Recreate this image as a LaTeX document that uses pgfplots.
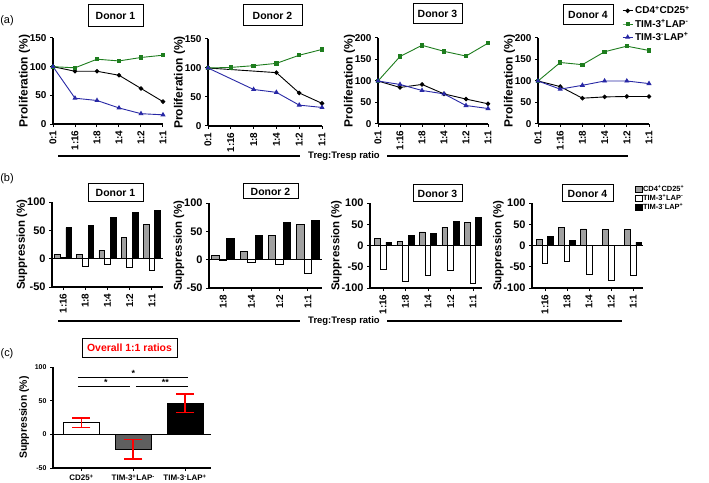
\documentclass[border=0pt]{standalone}
\usepackage{pgfplots}
\pgfplotsset{compat=1.18}
\usepackage{fontspec}
\setmainfont{Liberation Sans}
\definecolor{dgreen}{RGB}{30,125,30}
\definecolor{dblue}{RGB}{40,40,165}
\definecolor{bgray}{RGB}{160,160,160}
\definecolor{cgray}{RGB}{95,95,95}
\newcommand{\fs}[1]{\fontsize{#1}{#1}\selectfont\bfseries}
\newcommand{\p}{\textsuperscript{+}}
\newcommand{\m}{\textsuperscript{-}}
\pgfplotsset{
  base/.style={scale only axis, anchor=north west,
    axis x line*=bottom, axis y line*=left,
    axis line style={-, line width=1.2bp},
    tick align=outside, major tick length=3bp,
    every tick/.style={black, line width=1bp},
    /pgf/number format/assume math mode=true, clip=false},
  prolif/.style={base, xmin=0, xmax=5, ymin=0,
    xtick={0,...,5}, xticklabels={0:1,1:16,1:8,1:4,1:2,1:1},
    x tick label style={rotate=90, anchor=east, font=\fs{10}},
    y tick label style={font=\fs{10}},
    ylabel={Proliferation (\%)}, ylabel style={font=\fs{12}}, ylabel shift=-7bp},
  supp/.style={base, ybar=0pt,
    x tick label style={rotate=90, anchor=east, font=\fs{10}},
    y tick label style={font=\fs{11}},
    ylabel={Suppression (\%)}, ylabel style={font=\fs{11.5}}, ylabel shift=-13bp,
    extra y ticks={0}, extra y tick labels={},
    extra y tick style={grid=major, major grid style={black, line width=1.2bp}}},
  bk/.style={black, line width=0.9bp, mark=*, mark size=1.8bp, mark options={solid, fill=black}},
  gr/.style={dgreen, line width=0.9bp, mark=square*, mark size=1.7bp, mark options={solid, fill=dgreen}},
  bl/.style={dblue, line width=0.9bp, mark=triangle*, mark size=2.1bp, mark options={solid, fill=dblue}},
  lnleg/.style={legend image code/.code={\draw[mark repeat=2, mark phase=2, ##1] plot coordinates {(0bp,0bp) (5bp,0bp) (10bp,0bp)};}},
  sqleg/.style={legend image code/.code={\draw[##1] (0bp,-3bp) rectangle (6.5bp,3bp);}},
  gbar/.style={fill=bgray, draw=black, line width=0.8bp},
  wbar/.style={fill=white, draw=black, line width=0.8bp},
  kbar/.style={fill=black, draw=black, line width=0.8bp},
  cerr/.style={error bars/.cd, y dir=both, y explicit,
    error bar style={draw=red, color=red, line width=1.6bp},
    error mark options={rotate=90, draw=red, color=red, mark size=9bp, line width=1.6bp}},
}
\begin{document}
\begin{tikzpicture}[x=1bp, y=-1bp]
\useasboundingbox (0,0) rectangle (709,483);

% ---------------- (a) ----------------
\begin{axis}[prolif, at={(53bp,-38bp)}, width=110bp, height=86bp, ymax=150, ytick={0,50,100,150}]
\addplot[bk] coordinates {(0,100) (1,92) (2,92) (3,85) (4,62) (5,39)};
\addplot[gr] coordinates {(0,100) (1,98) (2,113) (3,110) (4,116) (5,120)};
\addplot[bl] coordinates {(0,100) (1,45) (2,41) (3,28) (4,18) (5,16)};
\end{axis}
\begin{axis}[prolif, at={(208bp,-39bp)}, width=114bp, height=87bp, ymax=150, ytick={0,50,100,150}]
\addplot[bk] coordinates {(0,100) (3,92) (4,57) (5,39)};
\addplot[gr] coordinates {(0,100) (1,101) (2,104) (3,108) (4,122) (5,132)};
\addplot[bl] coordinates {(0,100) (2,63) (3,58) (4,36) (5,32)};
\end{axis}
\begin{axis}[prolif, at={(378bp,-38bp)}, width=110bp, height=86bp, ymax=200, ytick={0,50,100,150,200}]
\addplot[bk] coordinates {(0,100) (1,85) (2,92) (3,70) (4,58) (5,47)};
\addplot[gr] coordinates {(0,100) (1,157) (2,183) (3,169) (4,158) (5,188)};
\addplot[bl] coordinates {(0,100) (1,92) (2,78) (3,70) (4,43) (5,36)};
\end{axis}
\begin{axis}[prolif, at={(538bp,-38bp)}, width=111bp, height=86bp, ymax=200, ytick={0,50,100,150,200},
  legend style={at={(0.757,1.395)}, anchor=north west, draw=none, fill=none, font=\fs{10}, inner sep=0pt,
    row sep=0bp, /tikz/every even column/.append style={column sep=2bp}}, legend cell align=left]
\addplot[bk, lnleg] coordinates {(0,100) (1,87) (2,60) (3,63) (4,64) (5,64)};
\addlegendentry{CD4\p CD25\p}
\addplot[gr, lnleg] coordinates {(0,100) (1,143) (2,138) (3,168) (4,181) (5,171)};
\addlegendentry{TIM-3\p LAP\m}
\addplot[bl, lnleg] coordinates {(0,100) (1,81) (2,90) (3,100) (4,100) (5,94)};
\addlegendentry{TIM-3\m LAP\p}
\end{axis}

% ---------------- (b) ----------------
\begin{axis}[supp, at={(52bp,-202bp)}, width=111bp, height=85bp, xmin=-0.5, xmax=4.5,
  ymin=-50, ymax=100, ytick={-50,0,50,100}, bar width=5.7bp,
  xtick={0,...,4}, xticklabels={1:16,1:8,1:4,1:2,1:1}]
\addplot[gbar] coordinates {(0,7) (1,7) (2,15) (3,38) (4,61)};
\addplot[wbar] coordinates {(0,2) (1,-13) (2,-10) (3,-16) (4,-20)};
\addplot[kbar] coordinates {(0,55) (1,59) (2,72) (3,82) (4,85)};
\end{axis}
\begin{axis}[supp, at={(209bp,-203bp)}, width=113bp, height=85bp, xmin=-0.5, xmax=3.5,
  ymin=-50, ymax=100, ytick={-50,0,50,100}, bar width=7.5bp,
  xtick={0,...,3}, xticklabels={1:8,1:4,1:2,1:1}]
\addplot[gbar] coordinates {(0,8) (1,15) (2,43) (3,62)};
\addplot[wbar] coordinates {(0,-2) (1,-4) (2,-9) (3,-24)};
\addplot[kbar] coordinates {(0,38) (1,42) (2,65) (3,69)};
\end{axis}
\begin{axis}[supp, at={(370bp,-203bp)}, width=112bp, height=85bp, xmin=-0.58, xmax=4.4,
  ymin=-100, ymax=100, ytick={-100,-50,0,50,100}, bar width=5.7bp,
  xtick={0,...,4}, xticklabels={1:16,1:8,1:4,1:2,1:1}]
\addplot[gbar] coordinates {(0,16) (1,9) (2,32) (3,43) (4,55)};
\addplot[wbar] coordinates {(0,-57) (1,-84) (2,-70) (3,-59) (4,-90)};
\addplot[kbar] coordinates {(0,8) (1,23) (2,29) (3,57) (4,66)};
\end{axis}
\begin{axis}[supp, at={(532bp,-203bp)}, width=111bp, height=85bp, xmin=-0.59, xmax=4.45,
  ymin=-100, ymax=100, ytick={-100,-50,0,50,100}, bar width=5.7bp,
  xtick={0,...,4}, xticklabels={1:16,1:8,1:4,1:2,1:1},
  legend style={at={(0.928,1.215)}, anchor=north west, draw=none, fill=none, font=\fs{7.5}, inner sep=0pt,
    nodes={inner sep=0.5bp, text height=6bp, text depth=2bp},
    row sep=0bp, /tikz/every even column/.append style={column sep=2bp}}, legend cell align=left]
\addplot[gbar, sqleg] coordinates {(0,15) (1,42) (2,39) (3,37) (4,37)};
\addlegendentry{CD4\p CD25\p}
\addplot[wbar, sqleg] coordinates {(0,-42) (1,-37) (2,-67) (3,-81) (4,-71)};
\addlegendentry{TIM-3\p LAP\m}
\addplot[kbar, sqleg] coordinates {(0,21) (1,11) (4,8)};
\addlegendentry{TIM-3\m LAP\p}
\end{axis}

% ---------------- (c) ----------------
\begin{axis}[base, at={(53bp,-367bp)}, width=158bp, height=101bp,
  xmin=-0.55, xmax=2.5, ymin=-50, ymax=100, ytick={-50,0,50,100},
  xtick={0,1,2}, xticklabels={CD25\p, TIM-3\p LAP\m, TIM-3\m LAP\p},
  x tick label style={font=\fs{8}}, y tick label style={font=\fs{7}},
  ylabel={Suppression (\%)}, ylabel style={font=\fs{10.5}}, ylabel shift=-7bp,
  extra y ticks={0}, extra y tick labels={},
  extra y tick style={grid=major, major grid style={black, line width=1.2bp}},
  ybar, bar width=36bp]
\addplot[fill=white, draw=black, line width=1bp, bar shift=0pt, cerr] coordinates {(0,17) +- (0,7)};
\addplot[fill=cgray, draw=black, line width=1bp, bar shift=0pt, cerr] coordinates {(1,-22) +- (0,14.5)};
\addplot[fill=black, draw=black, line width=1bp, bar shift=0pt, cerr] coordinates {(2,46) +- (0,13.5)};
\draw[line width=1.2bp] (axis cs:-0.07,85) -- (axis cs:2.06,85);
\draw[line width=1.2bp] (axis cs:-0.07,71) -- (axis cs:0.94,71);
\draw[line width=1.2bp] (axis cs:1.05,71) -- (axis cs:2.06,71);
\node[font=\fs{9}, anchor=south, inner sep=0.5bp] at (axis cs:1.0,85) {*};
\node[font=\fs{9}, anchor=south, inner sep=0.5bp] at (axis cs:0.47,71) {*};
\node[font=\fs{9}, anchor=south, inner sep=0.5bp] at (axis cs:1.62,71) {**};
\end{axis}

% ---------------- annotations ----------------
\node[font=\fontsize{11}{11}\selectfont] at (7,21) {(a)};
\node[font=\fontsize{11}{11}\selectfont] at (7,179) {(b)};
\node[font=\fontsize{11}{11}\selectfont] at (7,354) {(c)};

\tikzset{dbox/.style={draw=black, line width=1bp, font=\fs{10.5}, inner sep=0pt, align=center}}
\node[dbox, minimum width=55bp, minimum height=22bp] at (115.5,16) {Donor 1};
\node[dbox, minimum width=59bp, minimum height=21bp] at (272.5,15.5) {Donor 2};
\node[dbox, minimum width=49bp, minimum height=20bp] at (437.5,14) {Donor 3};
\node[dbox, minimum width=50bp, minimum height=20bp] at (588,15) {Donor 4};

\node[dbox, minimum width=55bp, minimum height=18bp] at (115.5,192.5) {Donor 1};
\node[dbox, minimum width=55bp, minimum height=15bp] at (270.5,191.5) {Donor 2};
\node[dbox, minimum width=49bp, minimum height=17bp] at (437.5,193.5) {Donor 3};
\node[dbox, minimum width=51bp, minimum height=17bp] at (587.5,193.5) {Donor 4};

\node[draw=black, line width=1bp, font=\fs{10.5}, text=red, minimum width=95bp, minimum height=19bp, inner sep=0pt] at (129.5,347.5) {Overall 1:1 ratios};

\draw[line width=1.5bp] (58,156) -- (300,156);
\draw[line width=1.5bp] (387,156) -- (628,156);
\node[font=\fs{9.5}] at (344,156) {Treg:Tresp ratio};
\draw[line width=1.5bp] (58,321) -- (300,321);
\draw[line width=1.5bp] (387,321) -- (622,321);
\node[font=\fs{9.5}] at (344,321) {Treg:Tresp ratio};
\end{tikzpicture}
\end{document}
